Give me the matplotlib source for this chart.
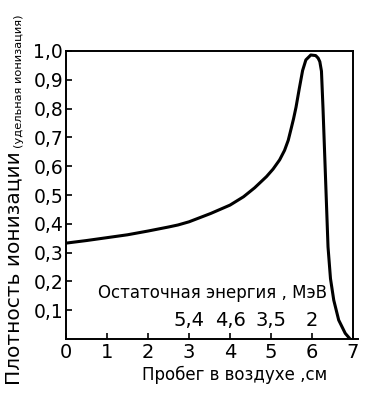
import matplotlib.pyplot as plt

# пробег (см) и относительная плотность ионизации
probeg = [0, 0.5, 1, 1.5, 2, 2.5, 2.73, 3.0, 3.53, 4.0, 4.33, 4.6, 4.89, 5.05,
          5.21, 5.33, 5.42, 5.49, 5.55, 5.61, 5.69, 5.77, 5.85, 5.97, 6.09, 6.15,
          6.19, 6.23, 6.268, 6.319, 6.357, 6.39, 6.45, 6.53, 6.65, 6.81, 6.93]
plotnost = [0.333, 0.342, 0.352, 0.362, 0.375, 0.389, 0.396, 0.407, 0.436, 0.465,
            0.494, 0.525, 0.564, 0.59, 0.622, 0.655, 0.69, 0.73, 0.765, 0.805,
            0.87, 0.932, 0.969, 0.986, 0.984, 0.975, 0.963, 0.93, 0.80, 0.60,
            0.45, 0.32, 0.21, 0.135, 0.066, 0.02, 0.0]

xticks = [0, 1, 2, 3, 4, 5, 6, 7]
yticks = [0.1, 0.2, 0.3, 0.4, 0.5, 0.6, 0.7, 0.8, 0.9, 1.0]
ylabels = ['0,1', '0,2', '0,3', '0,4', '0,5', '0,6', '0,7', '0,8', '0,9', '1,0']

energy_pos = [3, 4, 5, 6]
energy_lab = ['5,4', '4,6', '3,5', '2']

fig = plt.figure(figsize=(3.76, 4.11), dpi=100)
ax = fig.add_axes([0.1755, 0.175, 0.7765, 0.701])

ax.plot(probeg, plotnost, color='black', lw=2.2, solid_capstyle='round',
        solid_joinstyle='round')

# рамка: верхняя линия на 1,0 и правая на 7
ax.plot([0, 7], [1.0, 1.0], color='black', lw=1.4, clip_on=False)
ax.plot([7, 7], [0, 1.0], color='black', lw=1.4, clip_on=False)

ax.set_xlim(0, 7.12)
ax.set_ylim(0, 1.0)
ax.spines['top'].set_visible(False)
ax.spines['right'].set_visible(False)
ax.spines['left'].set_linewidth(1.4)
ax.spines['bottom'].set_linewidth(1.4)

ax.set_xticks(xticks)
ax.set_xticklabels([str(t) for t in xticks], fontsize=14)
ax.set_yticks(yticks)
ax.set_yticklabels(ylabels, fontsize=13.5)
ax.tick_params(direction='in', length=4, width=1.2)
ax.tick_params(axis='x', pad=3)
ax.tick_params(axis='y', pad=2)

ax.text(3.57, 0.16, 'Остаточная энергия , МэВ', fontsize=12, ha='center', va='center')
for p, l in zip(energy_pos, energy_lab):
    ax.text(p, 0.066, l, fontsize=14, ha='center', va='center')

fig.text(0.625, 0.087, 'Пробег в воздухе ,см', fontsize=12, ha='center', va='center')
fig.text(0.037, 0.063, 'Плотность ионизации', fontsize=14.5, rotation=90,
         ha='center', va='bottom')
fig.text(0.05, 0.64, '(удельная ионизация)', fontsize=8.2, rotation=90,
         ha='center', va='bottom')

fig.savefig('out.png', dpi=100)
